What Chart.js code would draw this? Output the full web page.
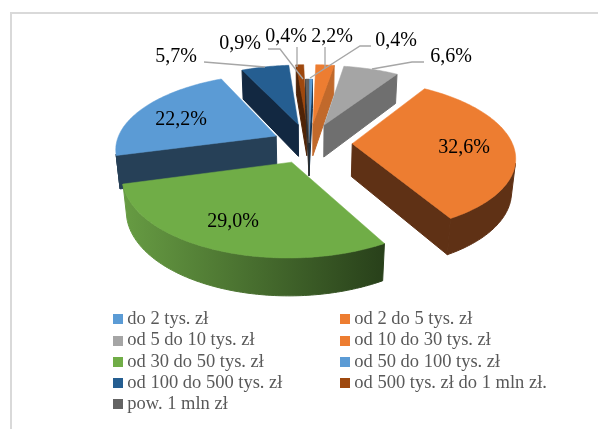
<!DOCTYPE html>
<html><head><meta charset="utf-8">
<style>
html,body{margin:0;padding:0;background:#fff;}
#wrap{position:relative;width:598px;height:429px;overflow:hidden;}
#frame{position:absolute;left:10px;top:12px;right:-4px;bottom:-4px;border-top:2px solid #d9d9d9;border-left:2px solid #d9d9d9;}
canvas{position:absolute;left:0;top:0;}
</style>
<script src="https://cdn.jsdelivr.net/npm/chart.js@4/dist/chart.umd.min.js"></script>
</head><body><div id="wrap"><div id="frame"></div><canvas id="c" width="598" height="429"></canvas></div>
<script>
const categories=["do 2 tys. zł","od 2 do 5 tys. zł","od 5 do 10 tys. zł","od 10 do 30 tys. zł","od 30 do 50 tys. zł","od 50 do 100 tys. zł","od 100 do 500 tys. zł","od 500 tys. zł do 1 mln zł.","pow. 1 mln zł"];
const values=[0.4,2.2,6.6,32.6,29.0,22.2,5.7,0.9,0.4];
const exploded=[0,1,1,1,1,0.85,1,1,0];
const topColors=["#5b9bd5","#ed7d31","#a5a5a5","#ed7d31","#70ad47","#5b9bd5","#255e91","#9e480e","#636363"];
const faceColors=["#12304d","#c1692b","#6f6f6f","#5f3115","#2a4419","#264057","#122841","#4f2407","#2e2e2e"];
const wallColors=[["#264057"],["#c1692b"],["#6f6f6f"],["#5f3115"],["#679c43","#28401a"],["#264057"],["#122841"],["#4f2407"],["#2e2e2e"]];
const legendOrder=[0,2,4,6,8,1,3,5,7];

/* perspective view of the pie plane (unit radius) */
const VIEW={cx:309,cy:143,sx:160,sy:74,depth:33.5,persp:0.157,taper:0.02,explode:0.27};
function project(X,Y,d){const w=1+VIEW.persp*Y+VIEW.taper*d;return [VIEW.cx+VIEW.sx*X/w,VIEW.cy-(VIEW.sy*Y-VIEW.depth*d)/w];}
function area(q){let s=0;for(let i=0;i<q.length;i++){const a=q[i],b=q[(i+1)%q.length];s+=a[0]*b[1]-b[0]*a[1];}return s;}
function poly(ctx,q,fill,lw){ctx.beginPath();q.forEach((p,i)=>i?ctx.lineTo(p[0],p[1]):ctx.moveTo(p[0],p[1]));ctx.closePath();ctx.fillStyle=fill;ctx.strokeStyle=fill;ctx.lineWidth=lw;ctx.fill();ctx.stroke();}

const LABEL_FONT='20px "Liberation Serif"';
const labelCentres={0:[396,41],1:[332,37],2:[451,57],3:[464,148],4:[233,222],5:[181,120],6:[176,57],7:[240,44],8:[286,37]};
const leaders=[[[204,62],[265,67]],[[268,49],[280,49],[303,79]],[[297,47],[297,67]],[[325,47],[325,68]],[[371,46],[360,46],[310,78]],[[424,62],[412,62],[372,69]]];

const pie3d={id:'pie3d',
 afterLayout(chart){
  const l=chart.legend,pad=l.options.labels.padding;
  l.maxHeight=120;
  l.fit();
  l.columnSizes[0].width=227-pad;
  l.left=114-pad;
  l.top=307.25;
  l.bottom=l.top+115;
  l.right=598;
  l.width=l.right-l.left;
  l.height=115;
 },
 beforeDatasetsDraw(chart){
  const ctx=chart.ctx,meta=chart.getDatasetMeta(0);
  const slices=meta.data.map((arc,i)=>{
   const a0=arc.startAngle+Math.PI/2,a1=arc.endAngle+Math.PI/2,mid=(a0+a1)/2;
   const e=arc.options.offset*VIEW.explode;
   return {i,a0,a1,ox:e*Math.sin(mid),oy:e*Math.cos(mid)};
  });
  slices.slice().sort((p,q)=>q.oy-p.oy).forEach(s=>{
   const pts=[];const n=Math.max(2,Math.ceil((s.a1-s.a0)/(Math.PI/180)));
   for(let k=0;k<=n;k++){const t=s.a0+(s.a1-s.a0)*k/n;pts.push([s.ox+Math.sin(t),s.oy+Math.cos(t)]);}
   const apex=[s.ox,s.oy];
   const xs=pts.map(p=>project(p[0],p[1],0)[0]);
   let wall=wallColors[s.i][0];
   if(wallColors[s.i].length>1){const g=ctx.createLinearGradient(Math.min(...xs),0,Math.max(...xs),0);g.addColorStop(0,wallColors[s.i][0]);g.addColorStop(1,wallColors[s.i][1]);wall=g;}
   const quad=(a,b)=>[project(a[0],a[1],0),project(b[0],b[1],0),project(b[0],b[1],1),project(a[0],a[1],1)];
   const side=(a,b,fill)=>{const q=quad(a,b);if(area(q)<0)poly(ctx,q,fill,1);};
   side(apex,pts[0],faceColors[s.i]);
   side(pts[n],apex,faceColors[s.i]);
   let run=[];
   const flush=()=>{if(run.length>1){const up=run.map(p=>project(p[0],p[1],0)),dn=run.map(p=>project(p[0],p[1],1)).reverse();poly(ctx,up.concat(dn),wall,1);}run=[];};
   for(let k=0;k<n;k++){
    if(area(quad(pts[k],pts[k+1]))<0){if(!run.length)run.push(pts[k]);run.push(pts[k+1]);}else flush();
   }
   flush();
   poly(ctx,[apex,...pts].map(p=>project(p[0],p[1],0)),topColors[s.i],0.5);
  });
  ctx.save();
  ctx.strokeStyle='#a6a6a6';ctx.lineWidth=1.3;
  leaders.forEach(l=>{ctx.beginPath();l.forEach((p,i)=>i?ctx.lineTo(p[0],p[1]):ctx.moveTo(p[0],p[1]));ctx.stroke();});
  ctx.fillStyle='#000';ctx.font=LABEL_FONT;ctx.textAlign='center';ctx.textBaseline='middle';
  values.forEach((v,i)=>{const p=labelCentres[i];ctx.fillText(v.toFixed(1).replace('.',',')+'%',p[0],p[1]);});
  ctx.restore();
  return false;
 }};
function swatch(color){const c=document.createElement('canvas');c.width=30;c.height=10;const x=c.getContext('2d');x.fillStyle=color;x.fillRect(12,0,10,10);return c;}
new Chart(document.getElementById('c'),{type:'pie',
 data:{labels:categories,datasets:[{data:values,backgroundColor:topColors,borderWidth:0,offset:exploded}]},
 options:{responsive:false,animation:false,rotation:0,circumference:360,
  layout:{padding:0},
  plugins:{tooltip:{enabled:false},
   legend:{display:true,position:'left',align:'start',
    labels:{font:{family:'"Liberation Serif"',size:18.5},color:'#595959',padding:2.75,boxWidth:4,boxHeight:4,usePointStyle:true,
     generateLabels(chart){const base=Chart.overrides.doughnut.plugins.legend.labels.generateLabels(chart);
      return legendOrder.map(i=>Object.assign(base[i],{pointStyle:swatch(topColors[i])}));}}}}},
 plugins:[pie3d]});
</script></body></html>
